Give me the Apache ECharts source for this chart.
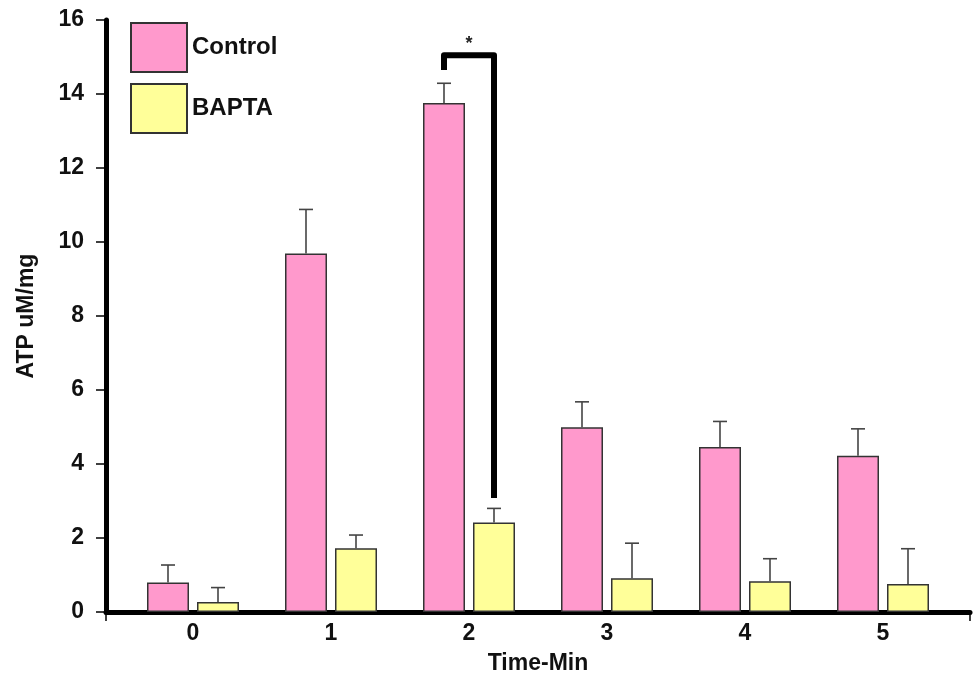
<!DOCTYPE html>
<html>
<head>
<meta charset="utf-8">
<script src="https://cdn.jsdelivr.net/npm/echarts@6/dist/echarts.min.js"></script>
<style>html,body{margin:0;padding:0;background:#fff}#c{width:975px;height:680px}</style>
</head>
<body>
<div id="c"></div>
<script>
const categories = ['0', '1', '2', '3', '4', '5'];
const controlMeans = [0.80, 9.69, 13.76, 4.99, 4.46, 4.22];
const controlErr = [0.47, 1.19, 0.53, 0.69, 0.69, 0.73];
const baptaMeans = [0.27, 1.72, 2.42, 0.91, 0.83, 0.76];
const baptaErr = [0.39, 0.36, 0.38, 0.95, 0.61, 0.95];
const yTicks = { min: 0, max: 16, interval: 2 };
// significance bracket: [category, left leg end, bracket top, right leg end]
const sigBracket = [2, 14.65, 15.05, 3.08];
const sigLabel = '*';
const sigLabelY = 15.35;

const FONT = '"Liberation Sans", Arial, sans-serif';
const BAR_W = 42, BAR_GAP = 8;

function barOffset(sign) { return sign * (BAR_W + BAR_GAP) / 2; }

function errRender(sign) {
  return function (params, api) {
    const x = api.value(0), mean = api.value(1), err = api.value(2);
    const base = api.coord([x, mean]);
    const top = api.coord([x, mean + err]);
    const cx = base[0] + barOffset(sign);
    const st = { stroke: '#444', lineWidth: 1.6 };
    return {
      type: 'group',
      children: [
        { type: 'line', shape: { x1: cx, y1: base[1], x2: cx, y2: top[1] }, style: st },
        { type: 'line', shape: { x1: cx - 7, y1: top[1], x2: cx + 7, y2: top[1] }, style: st }
      ]
    };
  };
}

const chart = echarts.init(document.getElementById('c'), null, { renderer: 'canvas' });
chart.setOption({
  animation: false,
  backgroundColor: '#fff',
  grid: [
    { left: 106, right: 5, top: 20, bottom: 68 },
    { left: 124, right: 23, top: 20, bottom: 68 }
  ],
  legend: {
    data: ['Control', 'BAPTA'],
    orient: 'vertical', left: 125, top: 17,
    itemWidth: 56, itemHeight: 49, itemGap: 10,
    icon: 'rect',
    textStyle: { fontFamily: FONT, fontWeight: 'bold', fontSize: 24, color: '#111' }
  },
  xAxis: [
    {
      gridIndex: 0, type: 'value', min: 0, max: 1, interval: 1,
      axisLine: { lineStyle: { color: '#000', width: 5 } },
      axisTick: { show: true, length: 9, lineStyle: { color: '#000', width: 1.5 } },
      axisLabel: { show: false }, splitLine: { show: false },
      name: 'Time-Min', nameLocation: 'middle', nameGap: 40,
      nameTextStyle: { fontFamily: FONT, fontWeight: 'bold', fontSize: 23, color: '#111' }
    },
    {
      gridIndex: 1, type: 'category', data: categories,
      axisLine: { show: false }, axisTick: { show: false },
      axisLabel: { fontFamily: FONT, fontWeight: 'bold', fontSize: 23, color: '#111', margin: 10 }
    }
  ],
  yAxis: [
    {
      gridIndex: 0, type: 'value', min: yTicks.min, max: yTicks.max, interval: yTicks.interval,
      axisLine: { show: true, lineStyle: { color: '#000', width: 5 } },
      axisTick: { show: true, length: 10, lineStyle: { color: '#000', width: 1.5 } },
      axisLabel: { fontFamily: FONT, fontWeight: 'bold', fontSize: 23, color: '#111', margin: 22 },
      splitLine: { show: false },
      name: 'ATP uM/mg', nameLocation: 'middle', nameGap: 68,
      nameTextStyle: { fontFamily: FONT, fontWeight: 'bold', fontSize: 23, color: '#111' }
    },
    {
      gridIndex: 1, type: 'value', min: yTicks.min, max: yTicks.max, interval: yTicks.interval,
      show: false
    }
  ],
  series: [
    {
      name: 'Control', type: 'bar', xAxisIndex: 1, yAxisIndex: 1,
      data: controlMeans, barWidth: BAR_W, barGap: (BAR_GAP / BAR_W * 100) + '%',
      itemStyle: { color: '#FF99CC', borderColor: '#333', borderWidth: 1.5 }
    },
    {
      name: 'BAPTA', type: 'bar', xAxisIndex: 1, yAxisIndex: 1,
      data: baptaMeans, barWidth: BAR_W,
      itemStyle: { color: '#FFFF99', borderColor: '#333', borderWidth: 1.5 }
    },
    {
      type: 'custom', xAxisIndex: 1, yAxisIndex: 1, z: 5,
      renderItem: errRender(-1),
      data: controlMeans.map((m, i) => [i, m, controlErr[i]])
    },
    {
      type: 'custom', xAxisIndex: 1, yAxisIndex: 1, z: 5,
      renderItem: errRender(1),
      data: baptaMeans.map((m, i) => [i, m, baptaErr[i]])
    },
    {
      type: 'custom', xAxisIndex: 1, yAxisIndex: 1, z: 6,
      renderItem: function (params, api) {
        const x = api.value(0);
        const pL = api.coord([x, api.value(1)]);
        const pT = api.coord([x, api.value(2)]);
        const pR = api.coord([x, api.value(3)]);
        const pS = api.coord([x, sigLabelY]);
        const xl = pL[0] + barOffset(-1), xr = pL[0] + barOffset(1);
        return {
          type: 'group',
          children: [
            {
              type: 'polyline',
              shape: { points: [[xl, pL[1]], [xl, pT[1]], [xr, pT[1]], [xr, pR[1]]] },
              style: { stroke: '#000', lineWidth: 6, fill: null, lineJoin: 'round', lineCap: 'butt' }
            },
            {
              type: 'text',
              style: { x: (xl + xr) / 2, y: pS[1], text: sigLabel, align: 'center', verticalAlign: 'middle',
                       font: 'bold 18px ' + FONT, fill: '#222' }
            }
          ]
        };
      },
      data: [sigBracket]
    }
  ]
});
</script>
</body>
</html>
